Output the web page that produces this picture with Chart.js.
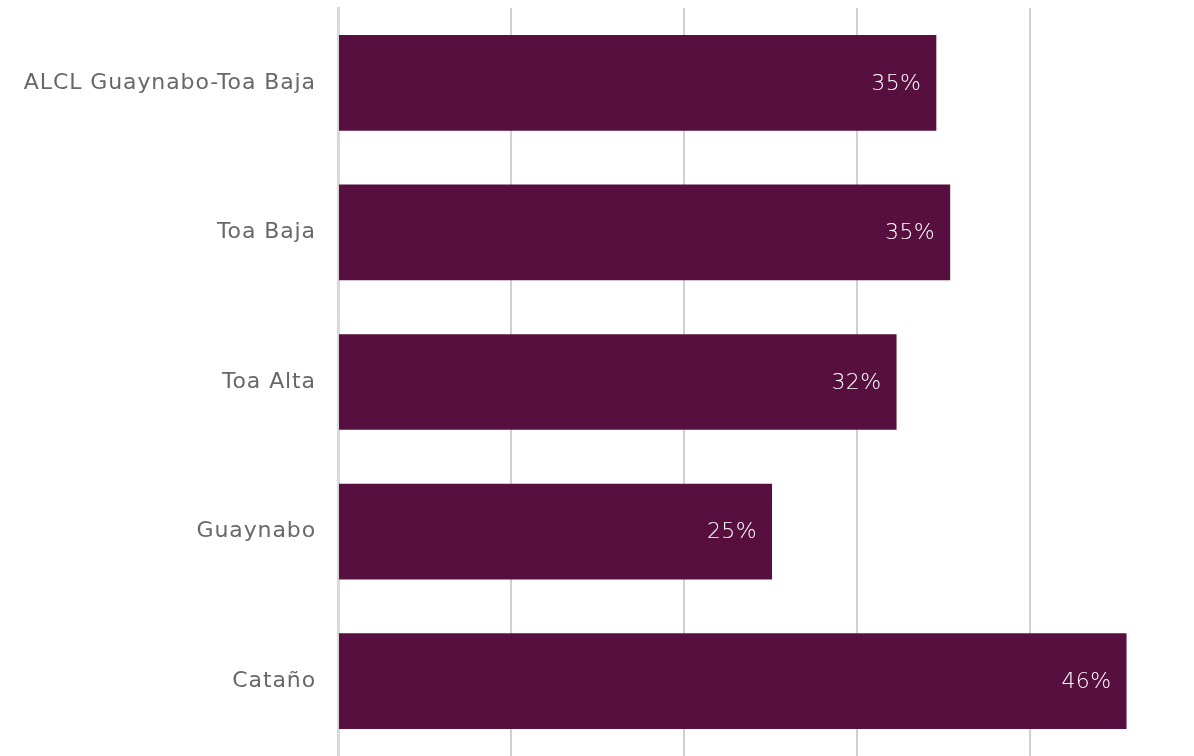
<!DOCTYPE html>
<html>
<head>
<meta charset="utf-8">
<script src="https://cdn.jsdelivr.net/npm/chart.js@4"></script>
<style>
html,body{margin:0;padding:0;background:#fff;overflow:hidden;}
#wrap{width:1194px;height:756px;position:relative;}
</style>
</head>
<body>
<div id="wrap"><canvas id="c" width="1194" height="756"></canvas></div>
<script>
const categories = ["ALCL Guaynabo-Toa Baja", "Toa Baja", "Toa Alta", "Guaynabo", "Cataño"];
const values = [0.346, 0.354, 0.323, 0.251, 0.456];
const gridTicks = [0, 0.1, 0.2, 0.3, 0.4];

const FONT = "'DejaVu Sans', sans-serif";

const spacingPlugin = {
  id: 'spacing',
  beforeDraw(chart) { chart.ctx.letterSpacing = '0.9px'; }
};

const labelPlugin = {
  id: 'barLabels',
  afterDatasetsDraw(chart) {
    const ctx = chart.ctx;
    const meta = chart.getDatasetMeta(0);
    ctx.save();
    ctx.letterSpacing = '0.4px';
    ctx.fillStyle = '#ffffff';
    ctx.font = '200 22px ' + FONT;
    ctx.textAlign = 'right';
    ctx.textBaseline = 'middle';
    meta.data.forEach((bar, i) => {
      const txt = Math.round(values[i] * 100) + '%';
      ctx.fillText(txt, bar.x - 15, bar.y + 1);
    });
    ctx.restore();
  }
};

new Chart(document.getElementById('c'), {
  type: 'bar',
  data: {
    labels: categories,
    datasets: [{
      data: values,
      backgroundColor: '#570F40',
      borderWidth: 0,
      barPercentage: 0.64,
      categoryPercentage: 1.0
    }]
  },
  options: {
    indexAxis: 'y',
    responsive: false,
    animation: false,
    devicePixelRatio: 1,
    layout: { padding: { top: 8, right: 0, bottom: -2, left: 0 } },
    plugins: { legend: { display: false }, tooltip: { enabled: false } },
    scales: {
      x: {
        min: 0,
        max: 0.495,
        afterBuildTicks(axis) { axis.ticks = gridTicks.map(v => ({ value: v })); },
        afterFit(axis) { axis.height = 0; axis.paddingLeft = 0; axis.paddingRight = 0; },
        ticks: { display: false },
        grid: { color: '#d0d0d0', lineWidth: 2, drawTicks: false },
        border: { display: false }
      },
      y: {
        afterFit(axis) { axis.width = 338; axis.paddingTop = 0; axis.paddingBottom = 0; },
        grid: { display: false, drawTicks: false },
        border: { display: true, color: '#d9d9d9', width: 3 },
        ticks: {
          color: '#686868',
          padding: 22,
          font: { family: FONT, size: 22, weight: 'normal' }
        }
      }
    }
  },
  plugins: [spacingPlugin, labelPlugin]
});
</script>
</body>
</html>
